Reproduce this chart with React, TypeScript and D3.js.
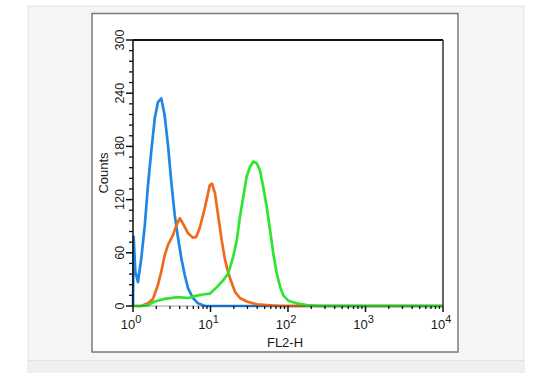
import React from "react";
import * as d3 from "d3";

const yTicks = [0, 60, 120, 180, 240, 300];
const xDecades = [0, 1, 2, 3, 4];
const xLabel = "FL2-H";
const yLabel = "Counts";

const blueX = [1.0, 1.02, 1.07, 1.16, 1.28, 1.42, 1.56, 1.72, 1.91, 2.1, 2.32, 2.56, 2.83, 3.12, 3.45, 3.81, 4.2, 4.65, 5.13, 5.95, 6.9, 8.49, 10000];
const blueY = [0, 78, 39, 27, 54, 91, 136, 174, 212, 230, 234, 215, 181, 140, 103, 77, 54, 35, 20, 9, 3, 0, 0];

const orangeX = [1.0, 1.27, 1.56, 1.81, 2.1, 2.32, 2.56, 2.83, 3.28, 3.62, 4.01, 4.42, 5.13, 5.95, 6.56, 7.26, 8.42, 9.77, 10.45, 11.43, 12.6, 13.95, 15.4, 17.0, 18.8, 20.7, 24.0, 29.3, 39.5, 53.1, 78.8, 10000];
const orangeY = [0, 0, 3, 8, 24, 39, 57, 69, 80, 91, 99, 93, 82, 77, 78, 88, 110, 136, 138, 127, 101, 74, 52, 37, 26, 16, 9, 5, 2, 1, 0, 0];

const greenX = [1.0, 1.23, 1.56, 1.91, 2.56, 3.81, 5.13, 6.9, 8.0, 9.86, 12.0, 14.6, 17.0, 19.7, 21.8, 24.0, 26.5, 29.3, 32.3, 35.7, 39.5, 43.5, 48.0, 53.1, 58.6, 64.6, 71.5, 78.8, 86.9, 101, 129, 174, 259, 10000];
const greenY = [0, 0, 1, 5, 8, 10, 9, 12, 13, 14, 21, 29, 37, 56, 74, 101, 123, 146, 157, 163, 161, 153, 134, 112, 86, 59, 37, 22, 12, 6, 3, 1, 0, 0];

const series = [
  { name: "blue", xs: blueX, ys: blueY, color: "#1f86e6" },
  { name: "orange", xs: orangeX, ys: orangeY, color: "#f06a1e" },
  { name: "green", xs: greenX, ys: greenY, color: "#2ee62e" },
];

export default function App() {
  const W = 539, H = 373;
  const left = 133, right = 443, top = 40, bottom = 306;
  const x = d3.scaleLog().domain([1, 10000]).range([left, right]);
  const y = d3.scaleLinear().domain([0, 300]).range([bottom, top]);
  const line = d3
    .line<[number, number]>()
    .x((d) => x(d[0]))
    .y((d) => y(d[1]));

  const yMinor = d3.range(0, 301, 12).filter((v) => v % 60 !== 0);
  const xMinor: number[] = [];
  for (let dec = 0; dec < 4; dec++) {
    for (let m = 2; m <= 9; m++) xMinor.push(m * Math.pow(10, dec));
  }
  const font = "'Liberation Sans', Arial, Helvetica, sans-serif";
  const txt = "#1a1a1a";

  return (
    <svg
      width={W}
      height={H}
      style={{ position: "absolute", left: 0, top: 0 }}
      fontFamily={font}
    >
      <rect x={0} y={0} width={W} height={H} fill="#ffffff" />
      <rect x={28} y={6} width={496} height={367} fill="#f4f5f5" stroke="#e3e4e4" strokeWidth={1} />
      <rect x={28} y={360} width={496} height={13} fill="#eeefef" />
      <line x1={28} x2={524} y1={360.5} y2={360.5} stroke="#e2e3e3" />
      <rect x={92} y={13.5} width={366} height={338.5} fill="#ffffff" stroke="#7a7a7a" strokeWidth={1.5} />

      {/* curves */}
      {series.map((s) => (
        <path
          key={s.name}
          d={line(s.xs.map((v, i) => [v, s.ys[i]] as [number, number])) || ""}
          fill="none"
          stroke={s.color}
          strokeWidth={2.7}
          strokeLinejoin="round"
        />
      ))}

      {/* frame */}
      <line x1={left} x2={right} y1={top} y2={top} stroke="#111" strokeWidth={2} />
      <line x1={right} x2={right} y1={top} y2={bottom} stroke="#333" strokeWidth={1.5} />
      <line x1={left} x2={left} y1={top} y2={bottom} stroke="#111" strokeWidth={1.5} />

      {/* y ticks */}
      {yTicks.map((t) => (
        <g key={"yt" + t}>
          <line x1={left - 7} x2={left} y1={y(t)} y2={y(t)} stroke="#111" strokeWidth={1.5} />
          <text
            transform={`translate(${120},${y(t)}) rotate(-90)`}
            textAnchor="middle"
            dominantBaseline="central"
            fontSize={12.5}
            fill={txt}
          >
            {t}
          </text>
        </g>
      ))}
      {yMinor.map((t) => (
        <line key={"ym" + t} x1={left - 4} x2={left} y1={y(t)} y2={y(t)} stroke="#111" strokeWidth={1.3} />
      ))}
      <text
        transform={`translate(${103},${(top + bottom) / 2}) rotate(-90)`}
        textAnchor="middle"
        dominantBaseline="central"
        fontSize={13}
        fill={txt}
      >
        {yLabel}
      </text>

      {/* x ticks */}
      {xMinor.map((t) => (
        <line key={"xm" + t} x1={x(t)} x2={x(t)} y1={bottom} y2={bottom + 3} stroke="#111" strokeWidth={1.3} />
      ))}
      {xDecades.map((d) => (
        <g key={"xd" + d}>
          <line x1={x(Math.pow(10, d))} x2={x(Math.pow(10, d))} y1={bottom} y2={bottom + 6} stroke="#111" strokeWidth={1.5} />
          <text x={x(Math.pow(10, d)) - 2} y={329} textAnchor="middle" fontSize={13} fill={txt}>
            <tspan>10</tspan>
            <tspan dy={-6} fontSize={11}>{d}</tspan>
          </text>
        </g>
      ))}
      <text x={285} y={347} textAnchor="middle" fontSize={13} fill={txt}>
        {xLabel}
      </text>
      {/* baseline axis */}
      <line x1={left} x2={right} y1={bottom} y2={bottom} stroke="#111" strokeWidth={1} opacity={0.4} />
    </svg>
  );
}
